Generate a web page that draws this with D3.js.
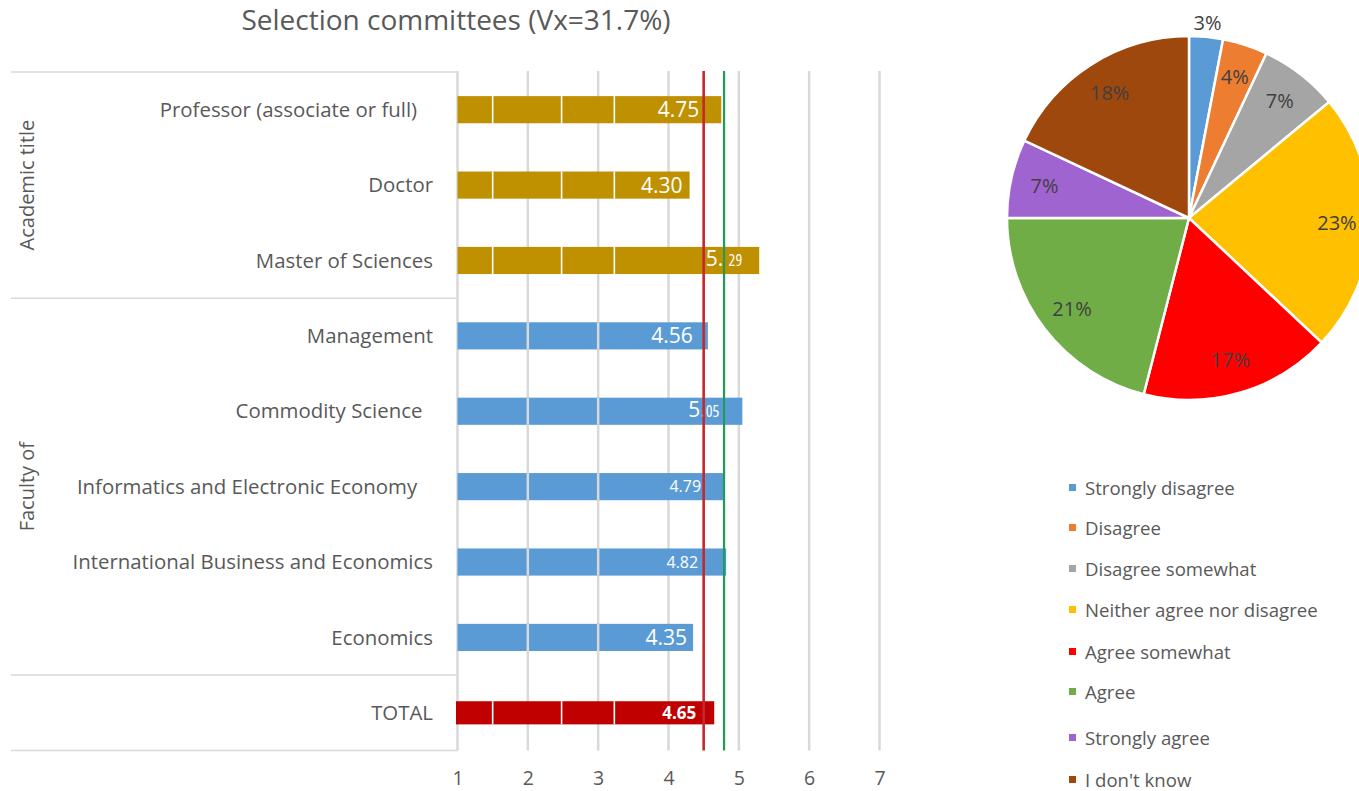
<!DOCTYPE html>
<html>
<head>
<meta charset="utf-8">
<script src="https://cdn.jsdelivr.net/npm/d3@7"></script>
<style>
  html, body { margin: 0; padding: 0; background: #fff; }
  svg { display: block; font-family: "Open Sans", "Noto Sans", sans-serif; }
  text { white-space: pre; }
</style>
</head>
<body>
<svg id="chart" width="1359" height="791"></svg>
<script>
// ---- data ----
const chartTitle = "Selection committees (Vx=31.7%)";
const categories = [
  "Professor (associate or full)   ",
  "Doctor",
  "Master of Sciences",
  "Management",
  "Commodity Science  ",
  "Informatics and Electronic Economy   ",
  "International Business and Economics",
  "Economics",
  "TOTAL"
];
const values = [4.75, 4.30, 5.29, 4.56, 5.05, 4.79, 4.82, 4.35, 4.65];
const groupNames = ["Academic title", "Faculty of", ""];
const categoryGroup = [0, 0, 0, 1, 1, 1, 1, 1, 2];
const referenceValues = [4.5, 4.79];
const xTicks = [1, 2, 3, 4, 5, 6, 7];

const answerLabels = [
  "Strongly disagree", "Disagree", "Disagree somewhat",
  "Neither agree nor disagree", "Agree somewhat", "Agree",
  "Strongly agree", "I don't know"
];
const answerShares = [3, 4, 7, 23, 17, 21, 7, 18];

// ---- styling ----
const textColor = "#595959";
const groupColors = ["#BF9000", "#5B9BD5", "#C00000"];
const referenceColors = ["#C5282C", "#1E9E55"];
const answerColors = ["#5B9BD5", "#ED7D31", "#A5A5A5", "#FFC000", "#FF0000", "#70AD47", "#A064D0", "#9E480E"];
// distance from bar end to the right edge of its value label
const labelInset = [22, 7, 17, 15, 23, 23, 28, 6, 18];
// how each value label is typeset
const labelKind = ["plain", "plain", "split", "plain", "split", "small", "small", "plain", "bold"];
// thin white splits drawn over the gold and red bars
const barSplits = [1.5, 2.48, 3.23];
// legend row baselines
const legendRows = [488, 528, 569, 610, 652, 692, 738, 780];

const svg = d3.select("#chart");

// ---- bar chart ----
const x = d3.scaleLinear().domain([1, 7]).range([457.5, 879.5]);
const y = d3.scaleBand().domain(categories).range([72, 750.5])
  .paddingInner(0.64).paddingOuter(0.32);
const step = y.step();
const rowTop = i => y.range()[0] + i * step;

svg.append("text")
  .attr("x", 456).attr("y", 30)
  .attr("text-anchor", "middle")
  .attr("font-size", 28).attr("fill", textColor)
  .text(chartTitle);

// vertical gridlines
svg.append("g").selectAll("line").data(xTicks).join("line")
  .attr("x1", d => x(d)).attr("x2", d => x(d))
  .attr("y1", 71).attr("y2", 750.5)
  .attr("stroke", "#D9D9D9").attr("stroke-width", 2.5);

// group separators on the category side
const boundaries = [0];
categoryGroup.forEach((g, i) => { if (i > 0 && g !== categoryGroup[i - 1]) boundaries.push(i); });
boundaries.push(categories.length);
svg.append("g").selectAll("line").data(boundaries).join("line")
  .attr("x1", 11).attr("x2", x(1))
  .attr("y1", d => rowTop(d)).attr("y2", d => rowTop(d))
  .attr("stroke", "#D9D9D9").attr("stroke-width", 1.5);

// group titles (rotated)
const groupSpans = groupNames.map((name, g) => {
  const idx = categoryGroup.map((c, i) => c === g ? i : -1).filter(i => i >= 0);
  return { name, mid: (rowTop(idx[0]) + rowTop(idx[idx.length - 1] + 1)) / 2 };
}).filter(d => d.name);
svg.append("g").selectAll("text").data(groupSpans).join("text")
  .attr("transform", d => `translate(34,${d.mid}) rotate(-90)`)
  .attr("text-anchor", "middle")
  .attr("font-size", 20).attr("fill", textColor)
  .text(d => d.name);

// category labels
svg.append("g").selectAll("text").data(categories).join("text")
  .attr("x", 433).attr("y", d => y(d) + y.bandwidth() / 2)
  .attr("dy", "0.35em")
  .attr("text-anchor", "end")
  .attr("font-size", 20.4).attr("fill", textColor)
  .text(d => d);

// bars
const bars = categories.map((c, i) => ({ c, v: values[i], g: categoryGroup[i], i }));
svg.append("g").selectAll("rect").data(bars).join("rect")
  .attr("x", d => x(1) - (d.g === 2 ? 1.5 : 0))
  .attr("y", d => y(d.c) + (d.g === 2 ? 2 : 0))
  .attr("width", d => x(d.v) - x(1) + (d.g === 2 ? 1.5 : 0))
  .attr("height", d => y.bandwidth() - (d.g === 2 ? 4 : 0))
  .attr("fill", d => groupColors[d.g]);

// splits across bars: white on gold/red, grid-grey on blue
const splits = [];
bars.forEach(b => {
  if (b.g === 1) {
    [2, 3].forEach(t => splits.push({ b, t, col: "#D9D9D9", w: 2.5 }));
  } else {
    barSplits.forEach(t => splits.push({ b, t, col: "#FFFFFF", w: 1.6 }));
  }
});
svg.append("g").selectAll("line").data(splits).join("line")
  .attr("x1", d => x(d.t)).attr("x2", d => x(d.t))
  .attr("y1", d => y(d.b.c) + (d.b.g === 2 ? 2 : 0))
  .attr("y2", d => y(d.b.c) + y.bandwidth() - (d.b.g === 2 ? 2 : 0))
  .attr("stroke", d => d.col).attr("stroke-width", d => d.w);

// value labels
const vl = svg.append("g").selectAll("text").data(bars).join("text")
  .attr("x", d => x(d.v) - labelInset[d.i])
  .attr("y", d => y(d.c) + y.bandwidth() / 2)
  .attr("dy", "0.36em")
  .attr("text-anchor", "end")
  .attr("fill", "#FFFFFF");
vl.each(function (d) {
  const t = d3.select(this);
  const s = d.v.toFixed(2);
  const kind = labelKind[d.i];
  if (kind === "split") {
    t.append("tspan").attr("font-size", 21).text(s.slice(0, 2) + (d.i === 2 ? " " : ""));
    t.append("tspan").attr("font-size", 16).attr("font-stretch", "condensed").text(s.slice(2));
  } else if (kind === "small") {
    t.attr("font-size", 16).text(s);
  } else if (kind === "bold") {
    t.attr("font-size", 17).attr("font-weight", "bold").text(s);
  } else {
    t.attr("font-size", 21).text(s);
  }
});

// reference lines
svg.append("g").selectAll("line").data(referenceValues).join("line")
  .attr("x1", d => x(d)).attr("x2", d => x(d))
  .attr("y1", 71).attr("y2", 750.5)
  .attr("stroke", (d, i) => referenceColors[i])
  .attr("stroke-width", (d, i) => i === 0 ? 2.6 : 2.2);

// x-axis tick labels
const xAxis = svg.append("g").attr("transform", "translate(0,771)")
  .call(d3.axisBottom(x).tickValues(xTicks).tickSize(0).tickPadding(0).tickFormat(d3.format("d")));
xAxis.select(".domain").remove();
xAxis.selectAll("text").attr("font-size", 19.5).attr("fill", textColor)
  .attr("font-family", "Open Sans, sans-serif");

// ---- pie chart ----
const cx = 1189, cy = 218, R = 182;
const pie = d3.pie().sort(null).value(d => d)(answerShares);
const arc = d3.arc().innerRadius(0).outerRadius(R);
const labelArc = d3.arc().innerRadius(148).outerRadius(148);
const outerLabelArc = d3.arc().innerRadius(196).outerRadius(196);
const pg = svg.append("g").attr("transform", `translate(${cx},${cy})`);
pg.selectAll("path").data(pie).join("path")
  .attr("d", arc)
  .attr("fill", (d, i) => answerColors[i])
  .attr("stroke", "#FFFFFF").attr("stroke-width", 2.5);
pg.selectAll("text").data(pie).join("text")
  .attr("transform", d => `translate(${(d.value < 4 ? outerLabelArc : labelArc).centroid(d)})`)
  .attr("text-anchor", "middle").attr("dy", "0.35em")
  .attr("font-size", 20).attr("fill", "#404040")
  .text(d => d.value + "%");

// legend
const lg = svg.append("g").selectAll("g").data(answerLabels).join("g")
  .attr("transform", (d, i) => `translate(1069,${legendRows[i]})`);
lg.append("rect").attr("x", 0).attr("y", -4).attr("width", 7).attr("height", 7)
  .attr("fill", (d, i) => answerColors[i]);
lg.append("text").attr("x", 16).attr("dy", "0.35em")
  .attr("font-size", 18.6).attr("fill", textColor)
  .text(d => d);
</script>
</body>
</html>
